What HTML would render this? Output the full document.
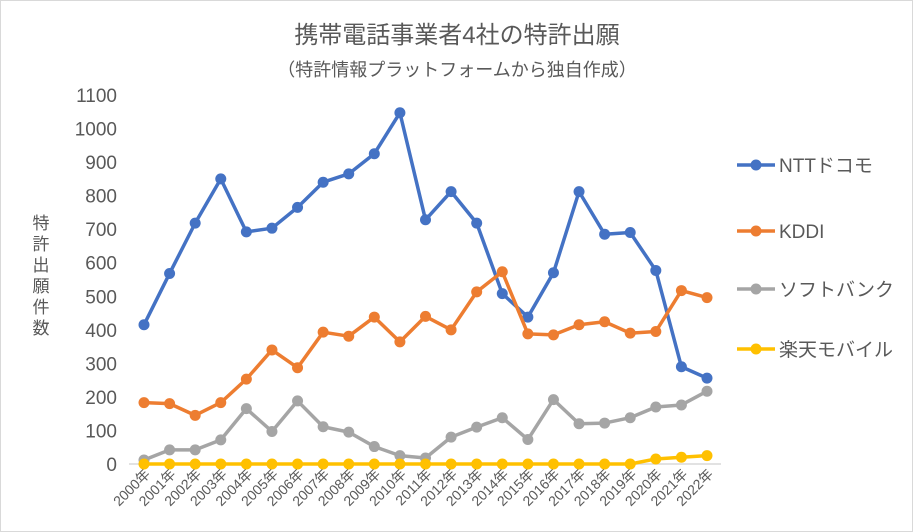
<!DOCTYPE html>
<html><head><meta charset="utf-8">
<style>
html,body{margin:0;padding:0;background:#fff;}
#wrap{position:relative;width:913px;height:532px;overflow:hidden;border:1px solid #d9d9d9;box-sizing:border-box;}
svg text{font-family:"Liberation Sans","Noto Sans CJK JP",sans-serif;}
</style></head>
<body>
<div id="wrap">
<svg id="chart" width="913" height="532">
<text x="456" y="42" text-anchor="middle" font-size="24" fill="#595959">携帯電話事業者4社の特許出願</text>
<text x="456" y="75" text-anchor="middle" font-size="18" fill="#595959">（特許情報プラットフォームから独自作成）</text>
<g id="ytitle"></g>
<g id="axes"></g>
<g id="series"></g>
<g id="legend"></g>
</svg>
</div>
<script>
const years = ["2000年","2001年","2002年","2003年","2004年","2005年","2006年","2007年","2008年","2009年","2010年","2011年","2012年","2013年","2014年","2015年","2016年","2017年","2018年","2019年","2020年","2021年","2022年"];
const ntt = [415,568,718,850,692,703,765,840,865,925,1047,728,812,718,508,438,570,812,685,690,577,290,256];
const kddi = [183,180,145,183,253,340,287,393,381,438,364,440,400,513,573,388,385,415,424,390,395,517,496];
const softbank = [12,42,42,72,165,97,188,111,95,52,25,18,80,110,138,73,192,120,122,138,170,176,217];
const rakuten = [0,0,0,0,0,0,0,0,0,0,0,0,0,0,0,0,0,0,0,0,15,20,25];
const yTicks = [0,100,200,300,400,500,600,700,800,900,1000,1100];
const seriesNames = ["NTTドコモ","KDDI","ソフトバンク","楽天モバイル"];

const NS="http://www.w3.org/2000/svg";
const x0=143, x1=706, yBase=463, yTop=94, yMax=1100;
const xs=i=>x0+(x1-x0)*i/(years.length-1);
const ys=v=>yBase-(yBase-yTop)*v/yMax;
function mk(tag,attrs,parent){const e=document.createElementNS(NS,tag);for(const k in attrs)e.setAttribute(k,attrs[k]);parent.appendChild(e);return e;}

const axes=document.getElementById('axes');
const bl=mk('line',{x1:128,x2:720,y1:yBase,y2:yBase,stroke:'#d9d9d9','stroke-width':1.5},axes);


yTicks.forEach(t=>{
  const tx=mk('text',{x:116,y:ys(t)+7,'text-anchor':'end','font-size':19,fill:'#595959'},axes);
  tx.textContent=t;
  
  
});
years.forEach((y,i)=>{
  const x=xs(i)+7, yy=474;
  const tx=mk('text',{x:x,y:yy,'text-anchor':'end','font-size':14,fill:'#595959',transform:`rotate(-45 ${x} ${yy})`},axes);
  tx.textContent=y;
  
  
});

const yt=document.getElementById('ytitle');
"特許出願件数".split("").forEach((c,i)=>{
  const t=mk('text',{x:40,y:228+i*21,'text-anchor':'middle','font-size':17,fill:'#595959'},yt);
  t.textContent=c;
});

const colors=["#4472c4","#ed7d31","#a5a5a5","#ffc000"];
const data=[ntt,kddi,softbank,rakuten];
const sg=document.getElementById('series');
data.forEach((d,si)=>{
  const g=mk('g',{},sg);
  
  
  const pts=d.map((v,i)=>xs(i)+','+ys(v)).join(' ');
  const pl=mk('polyline',{points:pts,fill:'none',stroke:colors[si],'stroke-width':3.5,'stroke-linejoin':'round'},g);
  
  
  d.forEach((v,i)=>{
    const c=mk('circle',{cx:xs(i),cy:ys(v),r:5.5,fill:colors[si]},g);
    
    
  });
});

const lg=document.getElementById('legend');
const ly=[164,230,288,348];
seriesNames.forEach((n,i)=>{
  const g=mk('g',{},lg);
  
  
  mk('line',{x1:736,x2:774,y1:ly[i],y2:ly[i],stroke:colors[i],'stroke-width':3.5},g);
  mk('circle',{cx:755,cy:ly[i],r:5.5,fill:colors[i]},g);
  const t=mk('text',{x:778,y:ly[i]+7,'font-size':19,fill:'#595959'},g);
  t.textContent=n;
});
</script>
</body></html>
